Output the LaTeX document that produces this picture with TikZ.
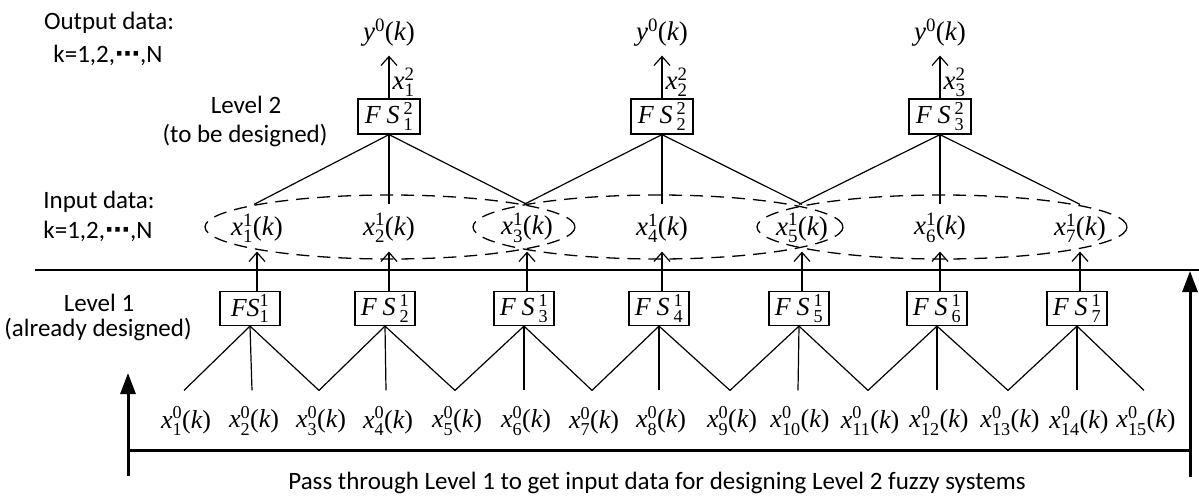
\documentclass[tikz,border=0pt]{standalone}
\usepackage{amsmath}
\usepackage{fontspec}
\setmainfont{Carlito}
\newfontfamily\tnr{Liberation Serif}
\newfontfamily\dvs{DejaVu Sans}
\usetikzlibrary{arrows.meta}
\newcommand\mv[1]{\text{\tnr\itshape #1}}
\newcommand\mr[1]{\text{\tnr #1}}
\newcommand\xk[2]{$\mv{x}^{\mr{#1}}_{\mr{#2}}\mr{(}\mv{k}\mr{)}$}
\newcommand\xs[2]{$\mv{x}^{\mr{#1}}_{\mr{#2}}$}
\newcommand\fsys[2]{$\mv{F}\ \mv{S}\,{}^{\mr{#1}}_{\mr{#2}}$}
\newcommand\mydots{{\dvs\bfseries ⋯}}
\begin{document}
\begin{tikzpicture}[x=1pt,y=-1pt,line width=1.2pt,
  lbl/.style={font=\fontsize{25}{29}\selectfont, inner sep=0pt},
  mth/.style={font=\fontsize{27}{32}\selectfont, inner sep=0pt},
  mths/.style={font=\fontsize{26}{31}\selectfont, inner sep=0pt},
  fsbox/.style={draw, line width=1.2pt, minimum width=60pt, minimum height=34pt, inner sep=0pt, font=\fontsize{26}{30}\selectfont},
  dashell/.style={line width=1.3pt, dash pattern=on 13pt off 8pt},
  barb/.style={-{Straight Barb[length=9pt,width=16pt,line width=1.2pt]}},
  bigarrow/.style={line width=3pt,-{Triangle[length=21pt,width=15pt]}}]
\useasboundingbox (0,0) rectangle (1199,499);

% side texts
\node[lbl] (out1) at (109,23) {Output data:};
\node[lbl] (out2) at (108,55) {k=1,2,\mydots,N};
\node[lbl] (lev2) at (246,105) {Level 2};
\node[lbl] (lev2b) at (245,135) {(to be designed)};
\node[lbl] (in1) at (99,202) {Input data:};
\node[lbl] (in2) at (98,231) {k=1,2,\mydots,N};
\node[lbl] (lev1) at (99,303) {Level 1};
\node[lbl] (lev1b) at (98,329) {(already designed)};
\node[lbl] (pass) at (657,483) {Pass through Level 1 to get input data for designing Level 2 fuzzy systems};

% dashed ellipses
\draw[dashell] (390,227) ellipse [x radius=185, y radius=32];
\draw[dashell] (658,227) ellipse [x radius=185, y radius=32];
\draw[dashell] (942,227) ellipse [x radius=185, y radius=32];

% level-1 output / level-2 input nodes
\foreach \i/\X in {1/257,2/389,3/527,4/662,5/802,6/940,7/1080}{
  \node[mth, minimum height=46pt] (x1-\i) at (\X,228) {\xk{1}{\i}};
}
% level-1 boxes
\node[fsbox] (f1-1) at (250,308.5) {$\mv{F}\mv{S}^{\mr{1}}_{\mr{1}}$};
\foreach \i/\X in {2/385,3/524,4/659,5/799,6/937,7/1077}{
  \node[fsbox] (f1-\i) at (\X,308.5) {\fsys{1}{\i}};
}
% level-0 inputs
\foreach \j/\X in {1/186,2/254,3/321,4/388,5/457,6/526,7/594,8/661,9/732,10/800,11/870,12/939,13/1010,14/1079,15/1146}{
  \node[mths, minimum height=60pt] (x0-\j) at (\X,421) {\xk{0}{\j}};
}
% level-2 boxes and outputs
\foreach \k/\m in {1/2,2/4,3/6}{
  \node[fsbox, minimum width=62pt, minimum height=35pt] (f2-\k) at (x1-\m.center |- 0,116.5) {\fsys{2}{\k}};
  \node[mth, minimum height=44pt] (y0-\k) at (x1-\m.center |- 0,33) {$\mv{y}^{\mr{0}}\mr{(}\mv{k}\mr{)}$};
  \draw[barb] (f2-\k.north) -- node[mth, right=3pt, pos=0.38] (x2-\k) {\xs{2}{\k}} (y0-\k.south);
}
% level-2 input lines
\foreach \k/\a/\b/\c in {1/1/2/3,2/3/4/5,3/5/6/7}{
  \draw (f2-\k.south) -- ([xshift=-3pt]x1-\a.north);
  \draw (f2-\k.south) -- (x1-\b.north);
  \draw (f2-\k.south) -- (x1-\c.north);
}
% level-1 arrows and input lines
\foreach \i/\a/\b/\c in {1/1/2/3,2/3/4/5,3/5/6/7,4/7/8/9,5/9/10/11,6/11/12/13,7/13/14/15}{
  \draw[barb] (x1-\i.south |- f1-\i.north) -- (x1-\i.south);
  \draw (f1-\i.south) -- ([xshift=-2pt]x0-\a.north);
  \draw (f1-\i.south) -- ([xshift=-2pt]x0-\b.north);
  \draw (f1-\i.south) -- ([xshift=-2pt]x0-\c.north);
}

% divider
\coordinate (divL) at (35,270);
\coordinate (divR) at (1199,270);
\draw[line width=1.4pt] (divL) -- (divR);

% bottom bracket
\coordinate (bl) at (128,476);
\coordinate (blt) at (128,373);
\coordinate (br) at (1190,477);
\coordinate (brt) at (1190,271);
\coordinate (hl) at (126.5,450);
\coordinate (hr) at (1191.5,450);
\draw[line width=3pt] (hl) -- (hr);
\draw[bigarrow] (bl) -- (blt);
\draw[bigarrow] (br) -- (brt);
\end{tikzpicture}
\end{document}
